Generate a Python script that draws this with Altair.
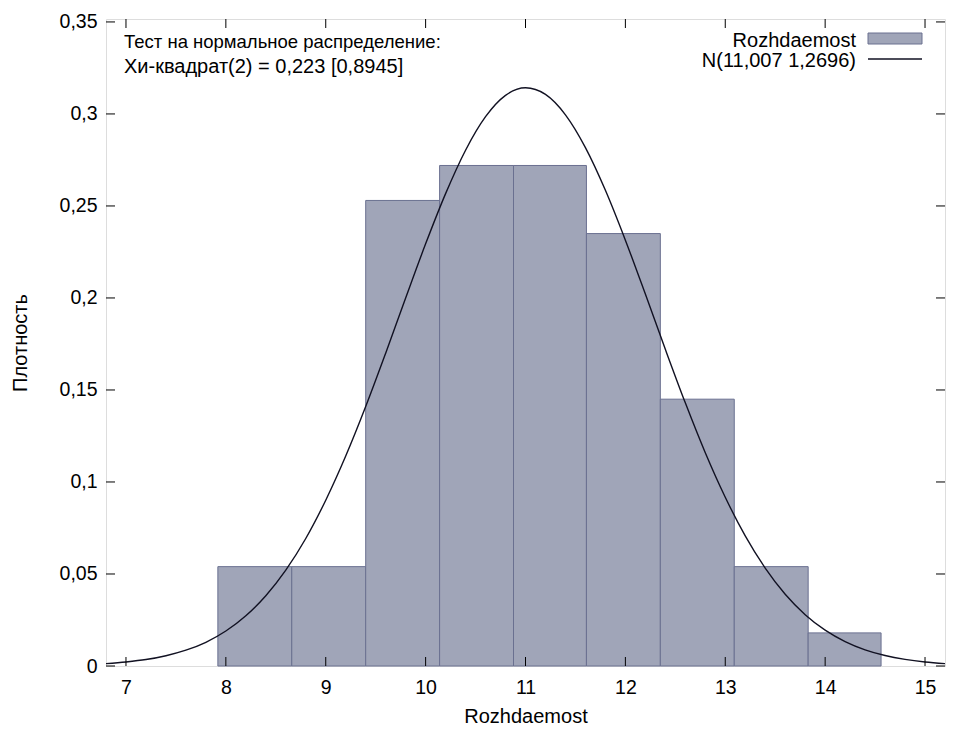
import altair as alt
import pandas as pd

# ---- data ----
bin_left = [7.92, 8.66, 9.40, 10.14, 10.88, 11.61, 12.35, 13.09, 13.83]
bin_right = [8.66, 9.40, 10.14, 10.88, 11.61, 12.35, 13.09, 13.83, 14.56]
density = [0.054, 0.054, 0.253, 0.272, 0.272, 0.235, 0.145, 0.054, 0.018]

curve_x = [6.8, 7.0, 7.2, 7.4, 7.6, 7.8, 8.0, 8.2, 8.4, 8.6, 8.8, 9.0, 9.2, 9.4,
           9.6, 9.8, 10.0, 10.2, 10.4, 10.6, 10.8, 11.0, 11.2, 11.4, 11.6, 11.8,
           12.0, 12.2, 12.4, 12.6, 12.8, 13.0, 13.2, 13.4, 13.6, 13.8, 14.0, 14.2,
           14.4, 14.6, 14.8, 15.0, 15.2]
curve_y = [0.0013, 0.0022, 0.0035, 0.0056, 0.0086, 0.0129, 0.0190, 0.0273, 0.0382,
           0.0521, 0.0693, 0.0901, 0.1141, 0.1410, 0.1700, 0.2000, 0.2294, 0.2567,
           0.2803, 0.2985, 0.3101, 0.3142, 0.3106, 0.2995, 0.2817, 0.2585, 0.2314,
           0.2021, 0.1721, 0.1430, 0.1159, 0.0917, 0.0707, 0.0532, 0.0390, 0.0279,
           0.0195, 0.0133, 0.0088, 0.0057, 0.0036, 0.0022, 0.0013]

x_ticks = [7, 8, 9, 10, 11, 12, 13, 14, 15]
y_ticks = [0, 0.05, 0.1, 0.15, 0.2, 0.25, 0.3, 0.35]

note_lines = ["Тест на нормальное распределение:", "Хи-квадрат(2) = 0,223 [0,8945]"]
legend_labels = ["Rozhdaemost", "N(11,007 1,2696)"]
x_title = "Rozhdaemost"
y_title = "Плотность"

# ---- layout ----
W, H = 839, 647
FONT = "Liberation Sans"
FS_TICK = 19.5
FS_TITLE = 20
FS_LEG = 20
X_DOM = [6.8, 15.2]
Y_DOM = [0, 0.3516]
BAR_FILL = "#a0a5b8"
BAR_EDGE = "#6a7090"
CURVE = "#111122"

bars_df = pd.DataFrame({"x1": bin_left, "x2": bin_right, "y": density})
curve_df = pd.DataFrame({"x": curve_x, "y": curve_y})
xt_df = pd.DataFrame({"v": x_ticks})
yt_df = pd.DataFrame({"v": y_ticks})

label_expr = "replace(format(datum.value, '~g'), '.', ',')"

xscale = alt.Scale(domain=X_DOM, nice=False, zero=False)
yscale = alt.Scale(domain=Y_DOM, nice=False, zero=False)

x_axis = alt.Axis(values=x_ticks, labelExpr=label_expr, grid=False, ticks=False,
                  domain=False, labelPadding=12, labelFontSize=FS_TICK, labelFont=FONT,
                  labelColor="black", title=x_title, titleFont=FONT,
                  titleFontSize=FS_TITLE, titleFontWeight="normal", titleColor="black",
                  titleX=W / 2, titleY=50, titleBaseline="middle", titleAlign="center")
y_axis = alt.Axis(values=y_ticks, labelExpr=label_expr, grid=False, ticks=False,
                  domain=False, labelPadding=9, labelFontSize=FS_TICK, labelFont=FONT,
                  labelColor="black", title=y_title, titleFont=FONT,
                  titleFontSize=FS_TITLE, titleFontWeight="normal", titleColor="black",
                  titleX=-86, titleY=H / 2, titleAngle=270, titleBaseline="middle",
                  titleAlign="center")

bars = alt.Chart(bars_df).mark_rect(fill=BAR_FILL, stroke=BAR_EDGE,
                                    strokeWidth=1).encode(
    x=alt.X("x1:Q", scale=xscale, axis=x_axis),
    x2="x2:Q",
    y=alt.Y("y:Q", scale=yscale, axis=y_axis),
    y2=alt.datum(0),
)

curve = alt.Chart(curve_df).mark_line(color=CURVE, strokeWidth=1.4,
                                      interpolate="monotone", clip=True).encode(
    x=alt.X("x:Q", scale=xscale),
    y=alt.Y("y:Q", scale=yscale),
)

tick_style = dict(color="black", strokeWidth=1)
TL = 9
bottom_ticks = alt.Chart(xt_df).mark_rule(**tick_style).encode(
    x=alt.X("v:Q", scale=xscale), y=alt.value(H), y2=alt.value(H - TL))
top_ticks = alt.Chart(xt_df).mark_rule(**tick_style).encode(
    x=alt.X("v:Q", scale=xscale), y=alt.value(0), y2=alt.value(TL))
left_ticks = alt.Chart(yt_df).mark_rule(**tick_style).encode(
    y=alt.Y("v:Q", scale=yscale), x=alt.value(0), x2=alt.value(TL))
right_ticks = alt.Chart(yt_df).mark_rule(**tick_style).encode(
    y=alt.Y("v:Q", scale=yscale), x=alt.value(W), x2=alt.value(W - TL))


def text_layer(txt, x, y, align, size):
    df = pd.DataFrame({"t": [txt]})
    return alt.Chart(df).mark_text(align=align, baseline="alphabetic", font=FONT,
                                   fontSize=size, color="black").encode(
        x=alt.value(x), y=alt.value(y), text="t:N")


note1 = text_layer(note_lines[0], 18, 29, "left", 18.5)
note2 = text_layer(note_lines[1], 18, 54, "left", 20)
leg1 = text_layer(legend_labels[0], 750, 28, "right", FS_LEG)
leg2 = text_layer(legend_labels[1], 750, 48, "right", FS_LEG)

leg_df = pd.DataFrame({"t": legend_labels})
leg_swatch = alt.Chart(leg_df.iloc[[0]]).mark_rect(
    fill=BAR_FILL, stroke=BAR_EDGE, strokeWidth=1).encode(
    x=alt.value(762), x2=alt.value(816), y=alt.value(14), y2=alt.value(25))
leg_line = alt.Chart(leg_df.iloc[[1]]).mark_rule(
    color=CURVE, strokeWidth=1.4).encode(
    x=alt.value(762), x2=alt.value(816), y=alt.value(40))

chart = alt.layer(
    bars, curve, bottom_ticks, top_ticks, left_ticks, right_ticks,
    note1, note2, leg1, leg2, leg_swatch, leg_line,
).properties(
    width=W, height=H,
    autosize=alt.AutoSizeParams(type="none"),
    padding={"left": 98, "top": 11, "right": 11, "bottom": 63},
).configure_view(stroke="black", strokeWidth=1.2).configure(background="white")

chart.save("out.html", embed_options={"renderer": "svg", "actions": False})
